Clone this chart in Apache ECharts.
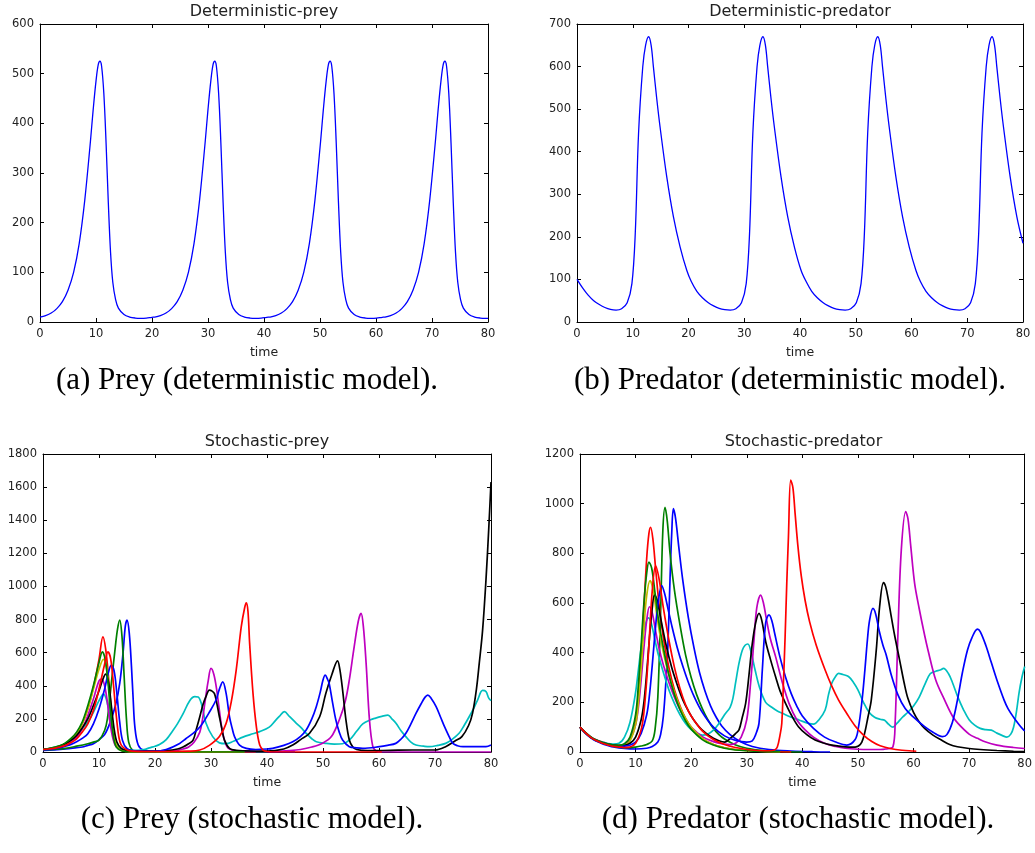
<!DOCTYPE html>
<html><head><meta charset="utf-8">
<script src="https://cdn.jsdelivr.net/npm/echarts@6/dist/echarts.min.js"></script>
<style>html,body{margin:0;padding:0;background:#fff}#c{width:1035px;height:853px}</style>
</head><body><div id="c"></div>
<script>
// ---------- text ----------
const titles = ['Deterministic-prey', 'Deterministic-predator', 'Stochastic-prey', 'Stochastic-predator'];
const captions = ['(a) Prey (deterministic model).', '(b) Predator (deterministic model).', '(c) Prey (stochastic model).', '(d) Predator (stochastic model).'];
const xName = 'time';
const xTicks = [0, 10, 20, 30, 40, 50, 60, 70, 80];
const yMax = [600, 700, 1800, 1200];
const yStep = [100, 100, 200, 200];

// ---------- deterministic model ----------
const detPrey = [
[0,10],[1,13],[2,18],[3,27],[4,41],[5,64],[6,100],[7,158],[8,246],[9,363],[9.5,428],[10,485],[10.4,518],[10.7,525],[11,515],[11.4,460],[11.8,360],[12.2,240],[12.6,140],[13,80],[13.5,45],[14,28],[15,15],[16,10],[17,8],[18,7.5],[19,8],[20,9.5],
[20.5,10],[21.5,13],[22.5,18],[23.5,27],[24.5,41],[25.5,64],[26.5,100],[27.5,158],[28.5,246],[29.5,363],[30,428],[30.5,485],[30.9,518],[31.2,525],[31.5,515],[31.9,460],[32.3,360],[32.7,240],[33.1,140],[33.5,80],[34,45],[34.5,28],[35.5,15],[36.5,10],[37.5,8],[38.5,7.5],[39.5,8],[40.5,9.5],
[41.1,10],[42.1,13],[43.1,18],[44.1,27],[45.1,41],[46.1,64],[47.1,100],[48.1,158],[49.1,246],[50.1,363],[50.6,428],[51.1,485],[51.5,518],[51.8,525],[52.1,515],[52.5,460],[52.9,360],[53.3,240],[53.7,140],[54.1,80],[54.6,45],[55.1,28],[56.1,15],[57.1,10],[58.1,8],[59.1,7.5],[60.1,8],[61.1,9.5],
[61.6,10],[62.6,13],[63.6,18],[64.6,27],[65.6,41],[66.6,64],[67.6,100],[68.6,158],[69.6,246],[70.6,363],[71.1,428],[71.6,485],[72,518],[72.3,525],[72.6,515],[73,460],[73.4,360],[73.8,240],[74.2,140],[74.6,80],[75.1,45],[75.6,28],[76.6,15],[77.6,10],[78.6,8],[79.6,7.5],[80,7.5]
];
const detPred = [
[0,100],[1,80],[2,63],[3,50],[4,41],[5,34],[6,29.5],[7,28],[8,31],[9,45],[9.85,90],[10.45,208],[11.04,443],[11.8,600],[12.3,650],[12.85,670],[13.3,650],[13.7,600],[14.3,525],[14.9,458],[16.1,341],[17.3,247],[18.5,176],[19.7,121],
[20.5,95],[21.5,72],[22.5,57],[23.5,46],[24.5,38],[25.5,32],[26.5,29],[27.5,28],[28.5,31],[29.5,45],[30.35,90],[30.95,208],[31.54,443],[32.3,600],[32.8,650],[33.35,670],[33.8,650],[34.2,600],[34.8,525],[35.4,458],[36.6,341],[37.8,247],[39,176],[40.2,121],
[41.1,95],[42.1,72],[43.1,57],[44.1,46],[45.1,38],[46.1,32],[47.1,29],[48.1,28],[49.1,31],[50.1,45],[50.95,90],[51.55,208],[52.14,443],[52.9,600],[53.4,650],[53.95,670],[54.4,650],[54.8,600],[55.4,525],[56,458],[57.2,341],[58.4,247],[59.6,176],[60.8,121],
[61.6,95],[62.6,72],[63.6,57],[64.6,46],[65.6,38],[66.6,32],[67.6,29],[68.6,28],[69.6,31],[70.6,45],[71.45,90],[72.05,208],[72.64,443],[73.4,600],[73.9,650],[74.45,670],[74.9,650],[75.3,600],[75.9,525],[76.5,458],[77.7,341],[78.9,247],[80,185]
];

// ---------- stochastic model: 10 runs (prey / predator) ----------
const preyBlueA = [[0,10],[2,13],[4,18],[6,26],[7,30],[8,40],[9,50],[10,75],[11,105],[12,180],[13,290],[13.7,415],[14.3,600],[14.7,760],[15,797],[15.4,720],[15.8,515],[16.1,320],[16.4,153],[17,42],[18,10],[20,3],[22,1],[24,0],[45,0]];
const predBlueA = [[0,100],[1,76],[2,56],[3,43],[4,33],[5,26],[6,20],[8,14],[10,12],[12,15],[13,22],[14,40],[14.5,70],[15,145],[15.5,300],[15.8,420],[16.2,700],[16.5,880],[16.8,980],[17.2,940],[17.8,820],[18.5,690],[19.5,540],[20.5,420],[21.5,320],[22.5,245],[23.5,185],[24.5,140],[25.5,105],[27,70],[29,40],[31,22],[34,10],[38,4],[42,1],[45,0]];

const preyGreenA = [[0,12],[2,16],[4,22],[6,35],[8,50],[9,60],[10,72],[11,130],[11.5,200],[12.2,415],[12.8,600],[13.3,740],[13.7,797],[14.1,700],[14.5,450],[14.9,200],[15.3,60],[16,10],[17,2],[18,0],[40,0]];
const predGreenA = [[0,100],[1,76],[2,58],[3,45],[4,36],[5,29],[6,24],[8,18],[9,18],[10,20],[11,24],[12,30],[13,45],[13.5,90],[14,220],[14.5,560],[14.9,890],[15.3,985],[15.7,930],[16.2,800],[17,650],[18,510],[19,390],[20,300],[21,230],[22,175],[23,130],[24,95],[25,70],[26,52],[28,28],[30,15],[33,6],[36,2],[40,0]];

const preyRedA = [[0,15],[1,19],[2,25],[3,35],[4,50],[5,75],[6,110],[7,170],[8,260],[9,390],[10,560],[10.7,695],[11.2,620],[11.7,450],[12.2,250],[12.7,100],[13.2,35],[14,10],[15,3],[16,0],[38,0]];
const predRedA = [[0,100],[1,78],[2,60],[3,48],[4,40],[5,33],[6,28],[7,26],[8,30],[9,50],[10,120],[10.5,220],[11,380],[11.5,580],[12,780],[12.4,880],[12.7,905],[13.1,860],[13.6,740],[14.2,600],[15,460],[16,340],[17,250],[18,185],[19,135],[20,100],[22,55],[24,30],[26,17],[28,10],[30,6],[34,2],[38,0]];

const preyCyan = [[0,15],[1,20],[2,28],[3,38],[4,50],[5,72],[6,100],[7,140],[8,180],[9,240],[10,310],[10.8,350],[11.3,320],[11.8,240],[12.3,150],[12.8,80],[13.5,35],[14.5,15],[16,10],[17,10],[18,14],[19,25],[20,35],[20.8,45],[22,75],[23.2,130],[24,170],[25,230],[26.2,310],[27.1,334],[27.7,332],[28.3,290],[29.1,175],[30.3,93],[31.5,55],[32.7,50],[34,65],[35.7,90],[37,105],[38.7,123],[40.4,150],[41.5,190],[42.2,215],[43.1,244],[44,215],[45.2,175],[46,150],[47,113],[48,80],[48.8,62],[50.6,52],[52,48],[53.5,50],[54.7,72],[56,125],[57.1,170],[58.5,195],[59.4,205],[60.5,215],[61.6,223],[62.3,200],[63,175],[64,125],[64.8,93],[65.7,60],[66.6,42],[68,35],[69,32],[70.5,40],[71.9,52],[73,75],[74.3,113],[75.2,160],[76.1,213],[77,270],[77.6,314],[78.5,372],[79.1,365],[79.6,325],[80,310]];
const predCyan = [[0,100],[1,78],[2,60],[3,48],[4,40],[5,34],[6,32],[7,35],[8,60],[9,120],[10,240],[10.5,330],[11,420],[11.5,490],[12.3,540],[12.8,520],[13.4,460],[14,400],[15,320],[16,250],[17,195],[18,150],[19,115],[20,90],[21,75],[22,68],[23,72],[24,88],[25,115],[26,150],[27,180],[27.5,215],[28,280],[28.6,357],[29.2,410],[29.7,430],[30.2,435],[30.8,400],[31.5,330],[32.3,260],[33.4,200],[34.5,180],[35.5,165],[36.4,156],[38,140],[39.5,128],[41.1,115],[42,112],[43,130],[44.1,169],[44.7,230],[45.3,277],[46,305],[46.5,317],[47.3,312],[48.3,304],[49.2,280],[50,250],[51,200],[52,160],[53,140],[54,132],[54.8,128],[55.5,112],[56.3,100],[57,115],[58,140],[59,160],[60,185],[61,220],[62,270],[63,315],[64,325],[64.8,330],[65.4,337],[66.3,315],[67,280],[68,220],[69,170],[70,130],[71,108],[72,95],[73,90],[74,88],[75,76],[76,66],[76.8,60],[77.5,72],[78,100],[78.5,160],[79,240],[79.5,300],[80,344]];

const preyMag = [[0,15],[1,19],[2,25],[3,33],[4,45],[5,65],[6,90],[7,140],[8,220],[9,320],[10,430],[10.5,440],[11,400],[11.5,300],[12,170],[12.5,80],[13,35],[14,12],[15,5],[17,3],[20,3],[22,5],[24,10],[25,18],[26,30],[27,60],[28,120],[28.5,200],[29,320],[29.5,430],[30,505],[30.5,470],[31,380],[31.5,250],[32,130],[32.5,60],[33,25],[34,10],[36,4],[40,3],[42,5],[44,8],[46,15],[48,30],[50,55],[51.5,93],[52.9,193],[54,310],[54.7,435],[55.5,620],[56.3,790],[56.8,837],[57.2,760],[57.7,535],[58.3,193],[58.9,32],[59.5,5],[60,0],[80,0]];
const predMag = [[0,100],[1,77],[2,58],[3,46],[4,37],[5,31],[6,27],[7,26],[8,30],[9,50],[10,110],[10.5,180],[11,290],[11.5,420],[12,530],[12.5,585],[13,560],[13.5,500],[14.2,420],[15,350],[16,280],[17,220],[18,170],[19,130],[20,100],[22,62],[24,42],[26,32],[27,30],[28,35],[29,60],[30,130],[30.7,280],[31.3,450],[31.8,580],[32.5,632],[33,600],[33.5,540],[34.2,460],[35.2,383],[36.4,280],[37.6,196],[39,130],[40.5,89],[42,60],[44,35],[46,22],[47.7,15],[50,11],[52,10],[54,10],[55,12],[56.3,21],[56.7,120],[57.2,478],[57.8,813],[58.6,968],[59,940],[59.5,830],[60.2,679],[61,580],[62,470],[62.6,411],[64,290],[65.6,209],[67,145],[68,115],[70,72],[71.5,55],[73,40],[75,28],[78,18],[80,14]];

const preyYel = [[0,15],[2,26],[4,50],[5,75],[6,110],[7,170],[8,260],[9,380],[10,500],[10.8,560],[11.3,520],[11.8,380],[12.3,200],[12.8,80],[13.3,30],[14,10],[15,3],[16,0],[36,0]];
const predYel = [[0,100],[2,58],[4,37],[6,27],[7,26],[8,28],[9,45],[10,110],[10.5,200],[11,340],[11.5,500],[12,630],[12.6,690],[13.1,660],[13.7,570],[14.4,470],[15.2,380],[16,310],[17,240],[18,180],[19,135],[20,100],[22,55],[24,30],[26,17],[28,9],[32,3],[36,0]];

const preyBlack = [[0,15],[1,19],[2,25],[3,35],[4,50],[5,70],[6,100],[7,145],[8,200],[9,280],[10,370],[10.7,440],[11.2,470],[11.7,420],[12.2,280],[12.7,140],[13.2,60],[14,20],[15,10],[17,6],[20,5],[22,8],[24,18],[25,30],[26,50],[26.8,72],[27.4,140],[28,213],[28.6,290],[29.1,334],[29.7,374],[30.1,370],[30.6,354],[31,300],[31.5,213],[32,130],[32.4,72],[33.3,22],[34.5,10],[36,7],[40,5],[43,18],[44.6,42],[46,75],[47.6,113],[49.4,213],[50.5,354],[51.6,470],[52.6,550],[53,500],[53.5,374],[54.1,193],[54.7,72],[55.3,32],[56,15],[58,8],[62,10],[66,12],[70,12],[71.9,32],[73.5,65],[74.8,93],[76,160],[76.7,233],[77.4,380],[77.9,535],[78.5,736],[79.1,1038],[79.6,1350],[80,1630]];
const predBlack = [[0,100],[1,76],[2,58],[3,46],[4,38],[5,32],[6,28],[7,26],[8,27],[9,35],[10,60],[11,130],[11.5,200],[12,320],[12.5,460],[13,580],[13.4,632],[13.9,610],[14.5,540],[15.5,430],[16.5,340],[17.5,270],[18.5,210],[19.5,165],[20.5,128],[22,88],[24,55],[26,40],[27.4,62],[28,75],[28.6,89],[29.2,140],[29.8,196],[30.4,310],[31,437],[31.6,520],[32.2,558],[32.7,530],[33.4,445],[34.3,370],[35.2,302],[36,245],[37,195],[38,150],[39.3,102],[40.8,70],[42.3,48],[43.8,36],[45.3,28],[47.7,21],[49.5,20],[50.1,24],[50.7,40],[51.2,75],[51.8,140],[52.4,209],[53.3,410],[53.9,585],[54.6,682],[55,665],[55.5,610],[56,545],[56.6,470],[57.5,370],[58.3,280],[59,215],[60,160],[61,122],[62,95],[63.5,68],[65,48],[66.5,30],[67.9,21],[70,14],[72,10],[75,6],[78,3],[80,2]];

const preyBlueB = [[0,12],[1,15],[2,20],[3,26],[4,35],[5,46],[6,62],[7,82],[8,110],[9,170],[10,260],[11,380],[11.6,470],[12.2,525],[12.7,490],[13.2,350],[13.7,180],[14.2,70],[15,20],[16,8],[18,4],[20,4],[22,15],[24.4,52],[25.5,80],[26.8,113],[27.7,140],[28.5,173],[29.7,240],[30.9,314],[31.5,380],[32.1,424],[32.7,354],[33.3,213],[33.8,140],[34.2,93],[35.1,42],[36.3,22],[38,15],[40,18],[41,22],[43,40],[44.6,62],[46,95],[47,133],[48,200],[48.8,274],[49.5,360],[50,435],[50.4,465],[50.8,440],[51.1,414],[51.7,300],[52.3,193],[52.9,120],[53.5,72],[54.7,32],[56,25],[57.1,22],[60.1,32],[61.5,40],[63,52],[64,80],[64.8,113],[65.7,170],[66.6,233],[67.5,290],[68.2,330],[68.7,344],[69.3,325],[70.2,274],[71,210],[71.7,153],[72.5,95],[73.2,52],[74,38],[75,32],[77.3,32],[79.1,32],[80,42]];
const predBlueB = [[0,100],[1,76],[2,58],[3,45],[4,36],[5,30],[6,26],[7,24],[8,24],[9,28],[10,40],[11,75],[12,150],[12.5,230],[13,350],[13.5,480],[14,590],[14.7,670],[15.2,640],[15.8,580],[16.5,510],[17.5,420],[18.5,345],[19.5,280],[20.5,225],[22,160],[24,100],[26,65],[28,47],[30,40],[31,45],[31.6,70],[32.2,115],[32.8,330],[33.4,520],[34,552],[34.5,530],[35,480],[36,380],[37,300],[38,235],[39,185],[40,145],[42,95],[44,60],[46,40],[48,28],[49.5,50],[50.1,100],[50.7,200],[51.2,317],[51.7,450],[52.1,531],[52.7,578],[53.2,555],[53.8,490],[54.5,430],[55.1,390],[56,310],[57.2,230],[58.5,175],[60,140],[62,102],[63.5,80],[65.2,62],[66,70],[67,120],[67.9,209],[68.8,320],[69.7,410],[70.5,460],[71.5,495],[72,485],[73,430],[74,360],[75,290],[76.3,209],[77,175],[78,140],[79,110],[79.8,89],[80,85]];

const preyGreenB = [[0,15],[1,20],[2,28],[3,38],[4,55],[5,82],[6,120],[7,180],[8,280],[9,400],[10,540],[10.6,605],[11.1,560],[11.6,420],[12.1,230],[12.6,90],[13.1,30],[14,8],[15,2],[16,0],[36,0]];
const predGreenB = [[0,100],[1,78],[2,60],[3,47],[4,38],[5,32],[6,28],[7,27],[8,33],[9,60],[10,150],[10.5,270],[11,430],[11.5,600],[12,720],[12.4,765],[12.9,740],[13.5,640],[14.2,520],[15,420],[16,310],[17,230],[18,170],[19,125],[20,92],[22,50],[24,28],[26,15],[28,8],[32,3],[36,0]];

const preyRedB = [[0,15],[1,18],[2,22],[3,30],[4,40],[5,57],[6,80],[7,120],[8,170],[9,250],[10,380],[11,530],[11.6,605],[12.1,560],[12.6,400],[13,250],[13.5,100],[14,40],[15,12],[16,5],[18,2],[22,2],[26,5],[28,12],[29.7,40],[31.5,93],[32.7,173],[33.6,300],[34.5,495],[35.4,756],[36,870],[36.3,901],[36.6,850],[36.9,656],[37.5,354],[38.1,153],[38.7,42],[39.3,12],[40,3],[41,0],[60.5,0]];
const predRedB = [[0,100],[1,77],[2,58],[3,45],[4,35],[5,28],[6,23],[7,20],[8,18],[9,20],[10,35],[11,90],[11.5,160],[12,290],[12.5,470],[13,650],[13.6,750],[14.2,700],[15,580],[16,450],[17,340],[18,255],[19,190],[20,145],[22,85],[24,50],[26,30],[28,18],[30,10],[32,6],[34,5],[35,8],[35.5,20],[36,70],[36.3,115],[36.6,280],[36.9,464],[37.2,680],[37.5,867],[37.9,1095],[38.3,1065],[38.7,960],[39.2,830],[39.8,710],[40.5,610],[41.3,525],[42.5,430],[44.1,330],[45.3,265],[46.5,210],[48,155],[49.5,105],[51,68],[52.5,42],[54,25],[56,13],[58,7],[60,4],[60.5,3]];

// run order and matplotlib classic colour cycle
const runColors = ['#0000ff','#008000','#ff0000','#00bfbf','#bf00bf','#bfbf00','#000000','#0000ff','#008000','#ff0000'];
const preyRuns = [preyBlueA, preyGreenA, preyRedA, preyCyan, preyMag, preyYel, preyBlack, preyBlueB, preyGreenB, preyRedB];
const predRuns = [predBlueA, predGreenA, predRedA, predCyan, predMag, predYel, predBlack, predBlueB, predGreenB, predRedB];

// ---------- layout ----------
const grids = [
  {left: 40, top: 24, width: 448, height: 298},
  {left: 577, top: 24, width: 446, height: 298},
  {left: 43, top: 454, width: 448, height: 298},
  {left: 580, top: 454, width: 447, height: 298}
];
const captionPos = [[247, 381], [790, 381], [252, 820], [798, 820]];

const labelStyle = {fontFamily: 'DejaVu Sans', fontSize: 11.5, color: '#222', formatter: v => String(v)};
const tick = {show: true, inside: true, length: 4, lineStyle: {color: '#000', width: 1}};
const line = {show: true, onZero: false, lineStyle: {color: '#000', width: 1}};

const xAxes = [], yAxes = [], graphics = [];
grids.forEach((g, i) => {
  xAxes.push({gridIndex: i, type: 'value', min: 0, max: 80, interval: 10, position: 'bottom',
    axisLine: line, axisTick: tick, splitLine: {show: false},
    axisLabel: Object.assign({margin: 6}, labelStyle),
    name: xName, nameLocation: 'middle', nameGap: 24,
    nameTextStyle: {fontFamily: 'DejaVu Sans', fontSize: 12.5, color: '#222'}});
  xAxes.push({gridIndex: i, type: 'value', min: 0, max: 80, interval: 10, position: 'top',
    axisLine: line, axisTick: tick, splitLine: {show: false}, axisLabel: {show: false}});
  yAxes.push({gridIndex: i, type: 'value', min: 0, max: yMax[i], interval: yStep[i], position: 'left',
    axisLine: line, axisTick: tick, splitLine: {show: false},
    axisLabel: Object.assign({margin: 6}, labelStyle)});
  yAxes.push({gridIndex: i, type: 'value', min: 0, max: yMax[i], interval: yStep[i], position: 'right',
    axisLine: line, axisTick: tick, splitLine: {show: false}, axisLabel: {show: false}});
  graphics.push({type: 'text', x: g.left + g.width / 2, y: g.top - 12,
    style: {text: titles[i], font: '16px "DejaVu Sans"', fill: '#222',
      align: 'center', verticalAlign: 'middle', textAlign: 'center', textVerticalAlign: 'middle'}});
  graphics.push({type: 'text', x: captionPos[i][0], y: captionPos[i][1],
    style: {text: captions[i], font: '31px "Liberation Serif"', fill: '#000',
      align: 'center', verticalAlign: 'middle', textAlign: 'center', textVerticalAlign: 'middle'}});
});

const series = [];
function addLine(grid, data, color, width) {
  series.push({type: 'line', xAxisIndex: 2 * grid, yAxisIndex: 2 * grid, data: data,
    showSymbol: false, symbol: 'none', smooth: 0.35, silent: true,
    lineStyle: {color: color, width: width}, clip: true});
}
addLine(0, detPrey, '#0000ff', 1.3);
addLine(1, detPred, '#0000ff', 1.3);
preyRuns.forEach((d, k) => addLine(2, d, runColors[k], 1.7));
predRuns.forEach((d, k) => addLine(3, d, runColors[k], 1.7));

const chart = echarts.init(document.getElementById('c'), null, {renderer: 'canvas'});
chart.setOption({
  animation: false,
  backgroundColor: '#fff',
  grid: grids,
  xAxis: xAxes,
  yAxis: yAxes,
  series: series,
  graphic: graphics
});
</script>
</body></html>
